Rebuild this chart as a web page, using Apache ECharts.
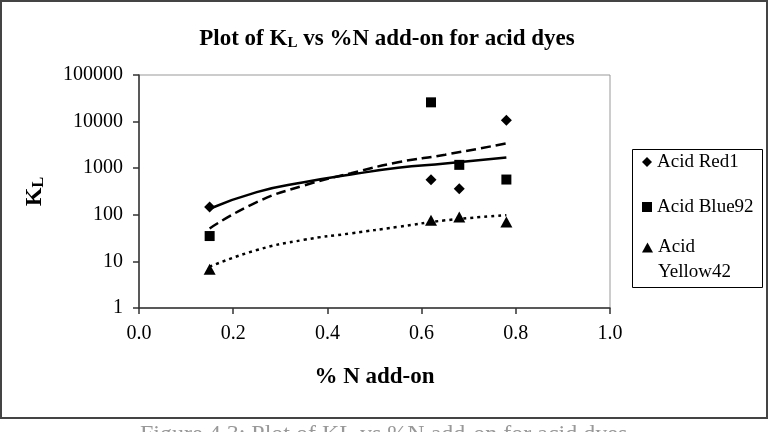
<!DOCTYPE html>
<html>
<head>
<meta charset="utf-8">
<script src="https://cdn.jsdelivr.net/npm/echarts@6/dist/echarts.min.js"></script>
<style>
html,body{margin:0;padding:0;background:#fff;}
#chart{width:770px;height:432px;}
</style>
</head>
<body>
<div id="chart"></div>
<script>
// Measured data points (% N add-on, K_L)
var xPoints = [0.15, 0.62, 0.68, 0.78];
var red1 = [147, 563, 363, 10700];
var blue92 = [35, 25900, 1180, 571];
var yellow42 = [6.8, 76, 90, 70];

// Trendlines
var trendX = [0.15, 0.25, 0.35, 0.45, 0.55, 0.65, 0.78];
var red1Trend = [135, 307, 500, 730, 1020, 1260, 1700];
var blue92Trend = [51, 187, 425, 780, 1340, 1950, 3400];
var yellow42Trend = [7.7, 17.5, 29, 40, 55, 76, 98];

var xTicks = [0, 0.2, 0.4, 0.6, 0.8, 1.0];
var yTicks = [1, 10, 100, 1000, 10000, 100000];

var seriesNames = ['Acid Red1', 'Acid Blue92', 'Acid Yellow42'];

function pairs(xs, ys) { return xs.map(function (x, i) { return [x, ys[i]]; }); }

var FONT = '"Liberation Serif", "Times New Roman", serif';
var chart = echarts.init(document.getElementById('chart'), null, {renderer: 'canvas'});

var option = {
  backgroundColor: '#fff',
  animation: false,
  textStyle: {fontFamily: FONT, color: '#000'},
  title: {
    text: '{t|Plot of K}{s|L}{t| vs %N add-on for acid dyes}',
    left: 382, top: 20, textAlign: 'center',
    textStyle: {
      rich: {
        t: {fontFamily: FONT, fontSize: 23, fontWeight: 'bold', color: '#000', height: 28, verticalAlign: 'bottom'},
        s: {fontFamily: FONT, fontSize: 15, fontWeight: 'bold', color: '#000', height: 28, verticalAlign: 'bottom', padding: [0, 0, -4, 0]}
      }
    }
  },
  grid: {left: 139, right: 160, top: 75, bottom: 124, show: true, borderColor: '#999', borderWidth: 1, backgroundColor: '#fff'},
  xAxis: {
    type: 'value', min: xTicks[0], max: xTicks[xTicks.length - 1], interval: 0.2,
    name: '% N add-on', nameLocation: 'middle', nameGap: 58,
    nameTextStyle: {fontFamily: FONT, fontSize: 23, fontWeight: 'bold', color: '#000'},
    axisLine: {show: true, onZero: false, lineStyle: {color: '#333', width: 1.5}},
    axisTick: {show: true, length: 6, lineStyle: {color: '#333', width: 1.5}},
    splitLine: {show: false},
    axisLabel: {fontFamily: FONT, fontSize: 20, color: '#000', margin: 16,
      formatter: function (v) { return v.toFixed(1); }}
  },
  yAxis: {
    type: 'log', logBase: 10, min: yTicks[0], max: yTicks[yTicks.length - 1],
    name: '{t|K}{s|L}', nameLocation: 'middle', nameGap: 90,
    nameTextStyle: {
      rich: {
        t: {fontFamily: FONT, fontSize: 24, fontWeight: 'bold', color: '#000', height: 28, verticalAlign: 'bottom'},
        s: {fontFamily: FONT, fontSize: 16, fontWeight: 'bold', color: '#000', height: 28, verticalAlign: 'bottom', padding: [0, 0, -4, 0]}
      }
    },
    axisLine: {show: true, lineStyle: {color: '#333', width: 1.5}},
    axisTick: {show: true, length: 6, lineStyle: {color: '#333', width: 1.5}},
    splitLine: {show: false},
    minorTick: {show: false},
    axisLabel: {fontFamily: FONT, fontSize: 20, color: '#000', margin: 16,
      formatter: function (v) { return String(Math.round(v)); }}
  },
  legend: [
    {
      data: [seriesNames[0], seriesNames[1]],
      orient: 'vertical', left: 642, top: 151, padding: 0, itemGap: 23,
      itemWidth: 10, itemHeight: 10,
      textStyle: {fontFamily: FONT, fontSize: 19, color: '#000', lineHeight: 22}
    },
    {
      data: [seriesNames[2]],
      orient: 'vertical', left: 642, top: 213, padding: 0,
      itemWidth: 11, itemHeight: 10,
      formatter: function (n) { var p = n.split(' '); return '{a| }\n{a|' + p[0] + '}\n{a|' + p[1] + '}'; },
      textStyle: {fontFamily: FONT, fontSize: 19, color: '#000',
        rich: {a: {fontFamily: FONT, fontSize: 19, color: '#000', lineHeight: 25}}}
    }
  ],
  graphic: [
    {type: 'rect', shape: {x: 632.5, y: 149.5, width: 130, height: 138}, style: {fill: null, stroke: '#000', lineWidth: 1}, z: -1},
    {type: 'rect', shape: {x: 1, y: 1, width: 766, height: 417}, style: {fill: null, stroke: '#444', lineWidth: 2}, z: 100},
    {type: 'text', left: 140, top: 423,
      style: {text: 'Figure 4.3: Plot of KL vs %N add-on for acid dyes', fill: '#999', font: '24px ' + FONT}}
  ],
  series: [
    {name: seriesNames[0], type: 'scatter', symbol: 'diamond', symbolSize: 11,
      itemStyle: {color: '#000', opacity: 1}, data: pairs(xPoints, red1), z: 5},
    {name: seriesNames[1], type: 'scatter', symbol: 'rect', symbolSize: 10,
      itemStyle: {color: '#000', opacity: 1}, data: pairs(xPoints, blue92), z: 5},
    {name: seriesNames[2], type: 'scatter', symbol: 'triangle', symbolSize: [12, 11],
      itemStyle: {color: '#000', opacity: 1}, data: pairs(xPoints, yellow42), z: 5},
    {name: 'Red1 trend', type: 'line', smooth: true, showSymbol: false, silent: true,
      lineStyle: {color: '#000', width: 2.5, type: 'solid'}, data: pairs(trendX, red1Trend)},
    {name: 'Blue92 trend', type: 'line', smooth: true, showSymbol: false, silent: true,
      lineStyle: {color: '#000', width: 2.5, type: [10, 5]}, data: pairs(trendX, blue92Trend)},
    {name: 'Yellow42 trend', type: 'line', smooth: true, showSymbol: false, silent: true,
      lineStyle: {color: '#000', width: 2.5, type: [3, 4]}, data: pairs(trendX, yellow42Trend)}
  ]
};
chart.setOption(option);
</script>
</body>
</html>
